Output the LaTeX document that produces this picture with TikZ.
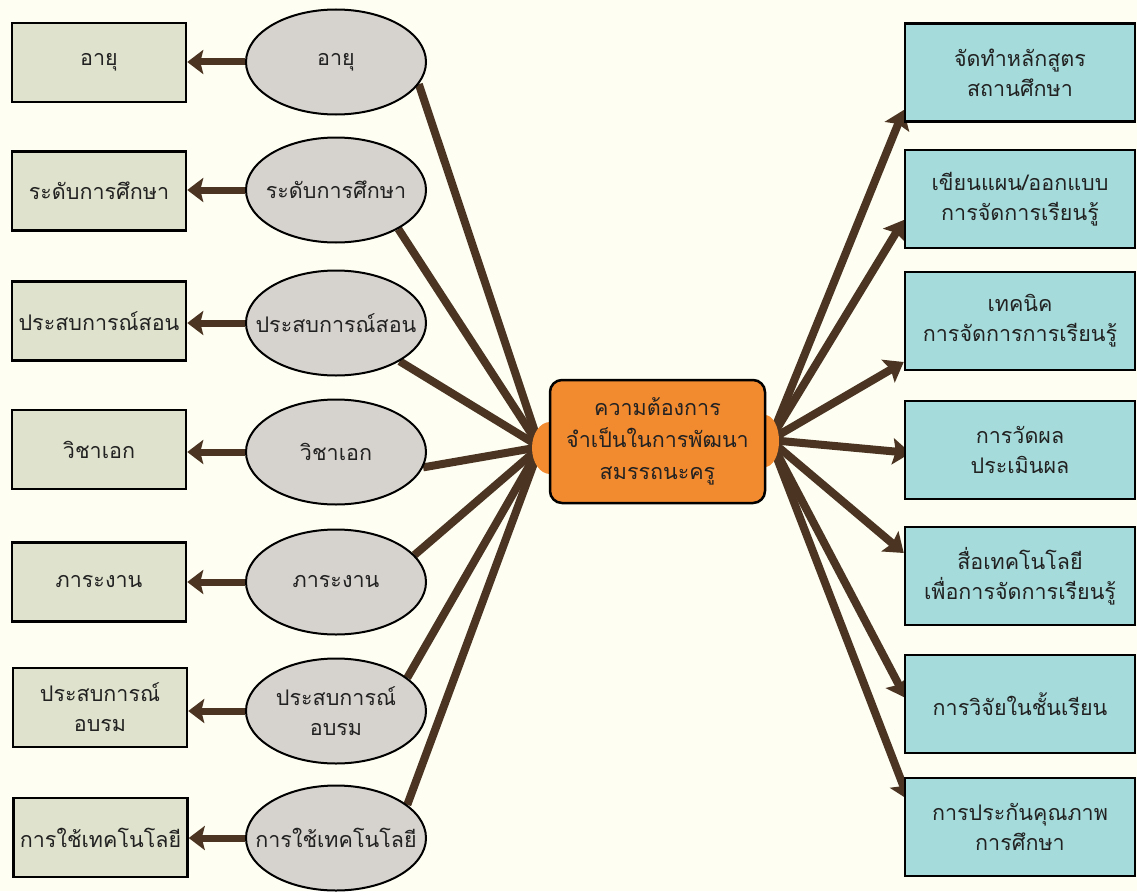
\documentclass[tikz,border=0pt]{standalone}
\usepackage{fontspec}
\newfontfamily\thaifont[Script=Thai]{Loma}
\usetikzlibrary{arrows.meta,shapes.geometric,calc}
\definecolor{bgc}{HTML}{FEFEF2}
\definecolor{lboxc}{HTML}{DFE2CC}
\definecolor{ellc}{HTML}{D6D2CD}
\definecolor{rboxc}{HTML}{A6DBDB}
\definecolor{orc}{HTML}{F28A30}
\definecolor{brn}{HTML}{4B3522}
\definecolor{txt}{HTML}{222222}
\pgfdeclarelayer{bgl}\pgfdeclarelayer{lns}\pgfsetlayers{bgl,lns,main}
\tikzset{
  lbl/.style={font=\thaifont\fontsize{21.5}{30}\selectfont, text=txt, align=center},
  lbox/.style={lbl, draw=black, line width=2.5pt, fill=lboxc, minimum width=174pt, minimum height=79pt, inner sep=0pt},
  ell/.style={lbl, ellipse, draw=black, line width=2pt, fill=ellc, minimum width=180pt, minimum height=105pt, inner xsep=-20pt, inner ysep=0pt},
  rbox/.style={lbl, draw=black, line width=2.5pt, fill=rboxc, minimum width=230pt, minimum height=98pt, inner sep=0pt},
  cbox/.style={lbl, draw=black, line width=2.5pt, fill=orc, rounded corners=12pt, minimum width=215pt, minimum height=123pt, inner sep=0pt, font=\thaifont\fontsize{21.5}{32}\selectfont},
  larr/.style={draw=brn, line width=7pt, -{Stealth[inset=3pt,length=16pt,width=24pt]}},
  rarr/.style={draw=brn, line width=8pt, -{Stealth[inset=3pt,length=18pt,width=26pt]}},
  spoke/.style={draw=brn, line width=8pt},
}
\begin{document}
\begin{tikzpicture}[x=1pt,y=-1pt]
\begin{pgfonlayer}{bgl}
\fill[bgc] (0,0) rectangle (1137,891);
\end{pgfonlayer}
\useasboundingbox (0,0) rectangle (1137,891);

% left boxes
\node[lbox] (l1) at (99,62.5) {อายุ};
\node[lbox] (l2) at (99,191) {ระดับการศึกษา};
\node[lbox] (l3) at (99,321) {ประสบการณ์สอน};
\node[lbox] (l4) at (99,449.5) {วิชาเอก};
\node[lbox] (l5) at (99,582) {ภาระงาน};
\node[lbox] (l6) at (100,707.5) {ประสบการณ์\\อบรม};
\node[lbox] (l7) at (100.5,837.5) {การใช้เทคโนโลยี};

% ellipses
\node[ell] (e1) at (336,62) {อายุ};
\node[ell] (e2) at (336,190) {ระดับการศึกษา};
\node[ell] (e3) at (336,323) {ประสบการณ์สอน};
\node[ell] (e4) at (336,452) {วิชาเอก};
\node[ell] (e5) at (336,582) {ภาระงาน};
\node[ell] (e6) at (336,711) {ประสบการณ์\\อบรม};
\node[ell] (e7) at (336,838) {การใช้เทคโนโลยี};

% right boxes
\node[rbox] (r1) at (1020,72.5) {จัดทำหลักสูตร\\สถานศึกษา};
\node[rbox] (r2) at (1020,199) {เขียนแผน/ออกแบบ\\การจัดการเรียนรู้};
\node[rbox] (r3) at (1020,321) {เทคนิค\\การจัดการการเรียนรู้};
\node[rbox] (r4) at (1020,450) {การวัดผล\\ประเมินผล};
\node[rbox] (r5) at (1020,576) {สื่อเทคโนโลยี\\เพื่อการจัดการเรียนรู้};
\node[rbox] (r6) at (1020,704) {การวิจัยในชั้นเรียน};
\node[rbox] (r7) at (1020,827) {การประกันคุณภาพ\\การศึกษา};

% center
\coordinate (cl) at (540,447);
\coordinate (cr) at (770,440);
\node[cbox] (c) at (657.5,441.5) {ความต้องการ\\จำเป็นในการพัฒนา\\สมรรถนะครู};

\begin{pgfonlayer}{lns}
% spokes left
\draw[spoke] (e1.-15) -- (cl);
\draw[spoke] (e2.-32) -- (cl);
\draw[spoke] (e3.-31) -- (cl);
\draw[spoke] (e4.-10) -- (cl);
\draw[spoke] (e5.19) -- (cl);
\draw[spoke] (e6.25) -- (cl);
\draw[spoke] (e7.25) -- (cl);
% spokes right
\draw[rarr] (cr) -- (r1.west |- 0,110);
\draw[rarr] (cr) -- (r2.west |- 0,220);
\draw[rarr] (cr) -- (r3.west |- 0,362);
\draw[rarr] (cr) -- ([xshift=7pt]r4.west |- 0,453);
\draw[rarr] (cr) -- (r5.west |- 0,553);
\draw[rarr] (cr) -- ([xshift=2pt]r6.west |- 0,698);
\draw[rarr] (cr) -- ([xshift=5pt]r7.west |- 0,800);
% bulges
\fill[orc] (550,448) ellipse [x radius=18pt, y radius=26pt];
\fill[orc] (765,441) ellipse [x radius=14pt, y radius=26pt];
\end{pgfonlayer}

% left arrows
\draw[larr] (e1.west) -- (l1.east |- e1.west);
\draw[larr] (e2.west) -- (l2.east |- e2.west);
\draw[larr] (e3.west) -- (l3.east |- e3.west);
\draw[larr] (e4.west) -- (l4.east |- e4.west);
\draw[larr] (e5.west) -- (l5.east |- e5.west);
\draw[larr] (e6.west) -- (l6.east |- e6.west);
\draw[larr] (e7.west) -- (l7.east |- e7.west);
\end{tikzpicture}
\end{document}
